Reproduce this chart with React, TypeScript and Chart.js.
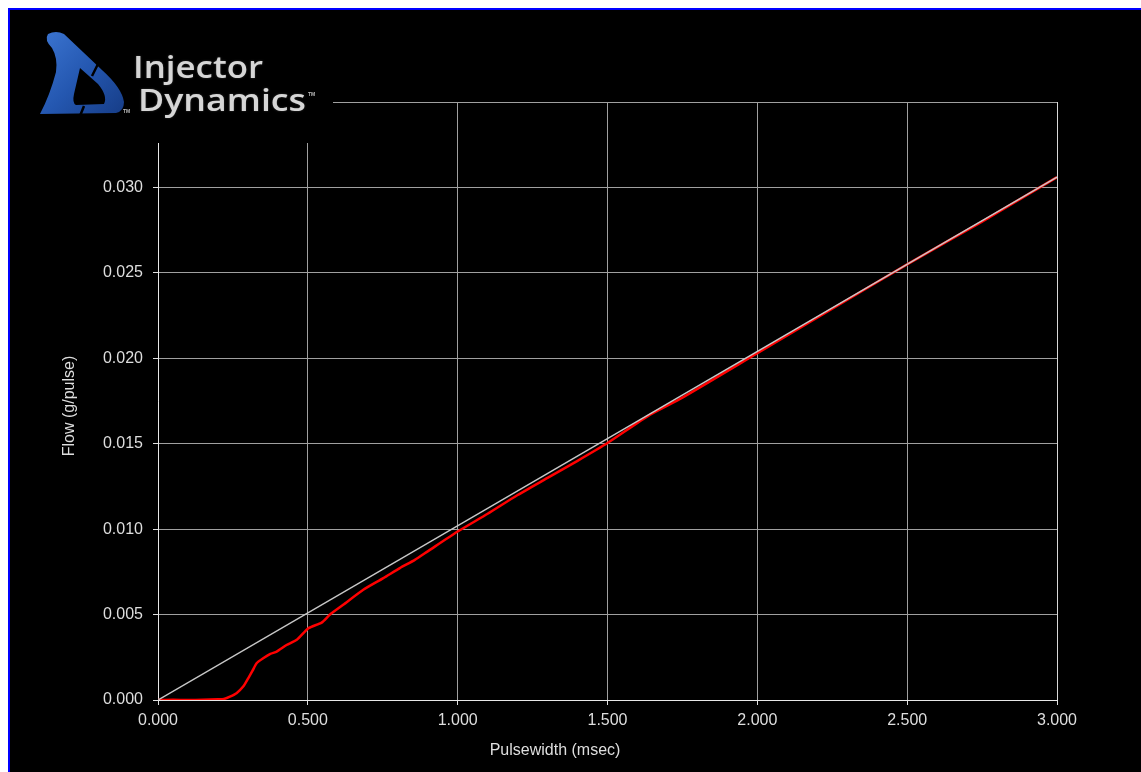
import React, { useEffect, useRef } from "react";
import { Chart, registerables } from "chart.js";

Chart.register(...registerables);

// Measured flow curve (red)
const pulsewidthMs = [
  0.0, 0.05, 0.1, 0.15, 0.2, 0.22, 0.24, 0.262, 0.285, 0.301, 0.315, 0.329, 0.351, 0.375,
  0.396, 0.429, 0.463, 0.502, 0.546, 0.574, 0.618, 0.685, 0.752, 0.807, 0.857, 0.9, 1.0,
  1.1, 1.2, 1.3, 1.4, 1.5, 1.642, 1.75, 2.0, 2.25, 2.5, 2.75, 3.0,
];
const flowGPerPulse = [
  0.0, 0.00001, 0.0, 0.00001, 0.00004, 0.00006, 0.0002, 0.0004, 0.0008, 0.00127, 0.0017,
  0.00215, 0.00244, 0.0027, 0.00283, 0.00322, 0.00352, 0.0042, 0.00453, 0.005, 0.00557,
  0.00645, 0.00713, 0.00772, 0.0082, 0.0087, 0.00986, 0.0109, 0.012, 0.013, 0.014, 0.01504,
  0.0167, 0.0177, 0.0203, 0.0229, 0.0255, 0.028, 0.0306,
];

// Ideal linear reference (gray)
const referenceX = [0.0, 3.0];
const referenceY = [0.0, 0.0306];

// Axes
const xMin = 0;
const xMax = 3.0;
const xStep = 0.5;
const yMin = 0;
const yMax = 0.035;
const yStep = 0.005;
const xTitle = "Pulsewidth (msec)";
const yTitle = "Flow (g/pulse)";
const logoLine1 = "Injector";
const logoLine2 = "Dynamics";

const FONT = "'Liberation Sans', Arial, sans-serif";
const TEXT = "#dedede";

function drawLogo(ctx: CanvasRenderingContext2D) {
  ctx.save();
  ctx.fillStyle = "#000";
  ctx.fillRect(0, 0, 323, 133);

  // stylized blue "D"
  const g = ctx.createLinearGradient(30, 25, 115, 105);
  g.addColorStop(0, "#3b74d0");
  g.addColorStop(0.5, "#2457b0");
  g.addColorStop(1, "#163c86");
  ctx.fillStyle = g;
  ctx.beginPath();
  ctx.moveTo(38, 24);
  ctx.quadraticCurveTo(46, 20, 54, 24);
  ctx.lineTo(92, 60);
  ctx.quadraticCurveTo(112, 78, 114, 92);
  ctx.quadraticCurveTo(114, 101, 106, 103);
  ctx.lineTo(30, 104);
  ctx.quadraticCurveTo(40, 85, 46, 62);
  ctx.quadraticCurveTo(48, 48, 42, 38);
  ctx.quadraticCurveTo(34, 30, 38, 24);
  ctx.closePath();
  // inner counter
  ctx.moveTo(70, 58);
  ctx.lineTo(88, 74);
  ctx.quadraticCurveTo(98, 86, 94, 94);
  ctx.lineTo(66, 95);
  ctx.quadraticCurveTo(62, 93, 64, 84);
  ctx.closePath();
  ctx.fill("evenodd");
  // cut
  ctx.strokeStyle = "#000";
  ctx.lineWidth = 2.5;
  ctx.beginPath();
  ctx.moveTo(88, 54);
  ctx.lineTo(82, 66);
  ctx.moveTo(74, 96);
  ctx.lineTo(70, 106);
  ctx.stroke();

  // TM marks
  ctx.fillStyle = "#bbbbbb";
  ctx.font = `bold 5px ${FONT}`;
  ctx.fillText("TM", 113, 103);
  ctx.fillText("TM", 298, 86);

  // logo text
  ctx.fillStyle = "#d6d6d6";
  ctx.shadowColor = "rgba(120,120,120,0.5)";
  ctx.shadowBlur = 2;
  ctx.font = `600 31px 'Open Sans', sans-serif`;
  const fit = (t: string, x: number, base: number, w: number) => {
    const m = ctx.measureText(t).width;
    ctx.save();
    ctx.translate(x, base);
    ctx.scale(w / m, 1);
    ctx.fillText(t, 0, 0);
    ctx.restore();
  };
  fit(logoLine1, 123, 68, 130);
  fit(logoLine2, 128, 101, 168);
  ctx.restore();
}

const overlayPlugin = {
  id: "overlay",
  afterDraw(chart: any) {
    const ctx = chart.ctx as CanvasRenderingContext2D;
    drawLogo(ctx);
    ctx.save();
    ctx.fillStyle = TEXT;
    ctx.font = `16px ${FONT}`;
    ctx.textAlign = "center";
    ctx.textBaseline = "middle";
    ctx.fillText(xTitle, 545, 741);
    ctx.translate(60, 396);
    ctx.rotate(-Math.PI / 2);
    ctx.fillText(yTitle, 0, 0);
    ctx.restore();
  },
};

export default function App() {
  const ref = useRef<HTMLCanvasElement>(null);
  useEffect(() => {
    if (!ref.current) return;
    const red = pulsewidthMs.map((x, i) => ({ x, y: flowGPerPulse[i] }));
    const gray = referenceX.map((x, i) => ({ x, y: referenceY[i] }));
    const chart = new Chart(ref.current, {
      type: "scatter",
      data: {
        datasets: [
          {
            data: gray,
            showLine: true,
            borderColor: "#c8c8c8",
            borderWidth: 1.5,
            pointRadius: 0,
          },
          {
            data: red,
            showLine: true,
            borderColor: "#ff0000",
            borderWidth: 2.5,
            pointRadius: 0,
            tension: 0.2,
          },
        ],
      },
      options: {
        animation: false,
        responsive: false,
        devicePixelRatio: 1,
        layout: { padding: { top: 92, right: 84, left: 0, bottom: 0 } },
        plugins: { legend: { display: false }, tooltip: { enabled: false } },
        scales: {
          x: {
            type: "linear",
            min: xMin,
            max: xMax,
            ticks: {
              stepSize: xStep,
              color: TEXT,
              font: { family: FONT, size: 16 },
              padding: 6,
              maxRotation: 0,
              autoSkip: false,
              callback: (v: any) => Number(v).toFixed(3),
            },
            grid: {
              color: (c: any) => (c.tick && Math.abs(c.tick.value - xMax) < 1e-9 ? "#d8d8d8" : "#a0a0a0"),
              lineWidth: 1,
              tickLength: 5,
              tickColor: "#e0e0e0",
            },
            border: { color: "#e8e8e8", width: 1 },
            afterFit: (s: any) => {
              s.height = 72;
            },
          },
          y: {
            type: "linear",
            min: yMin,
            max: yMax,
            ticks: {
              stepSize: yStep,
              color: TEXT,
              font: { family: FONT, size: 16 },
              padding: 10,
              autoSkip: false,
              callback: (v: any) => (Number(v) > yMax - 1e-6 ? "" : Number(v).toFixed(3)),
            },
            grid: {
              color: "#a0a0a0",
              lineWidth: 1,
              tickLength: 5,
              tickColor: "#e0e0e0",
            },
            border: { color: "#e8e8e8", width: 1 },
            afterFit: (s: any) => {
              s.width = 148;
            },
          },
        },
      },
      plugins: [overlayPlugin],
    } as any);
    return () => chart.destroy();
  }, []);

  return (
    <div
      style={{
        position: "fixed",
        left: 8,
        top: 8,
        width: 1131,
        height: 762,
        borderTop: "2px solid #0000ff",
        borderLeft: "2px solid #0000ff",
        background: "#000",
      }}
    >
      <canvas ref={ref} width={1131} height={762} style={{ display: "block" }} />
    </div>
  );
}
